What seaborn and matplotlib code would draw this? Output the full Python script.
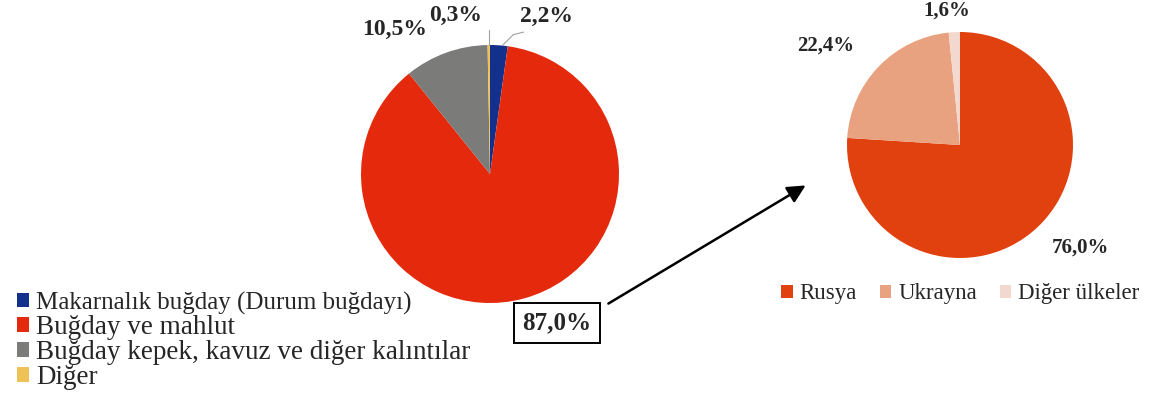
import seaborn as sns
import matplotlib.pyplot as plt

# Data
product_labels = ["Makarnalık buğday (Durum buğdayı)", "Buğday ve mahlut",
                  "Buğday kepek, kavuz ve diğer kalıntılar", "Diğer"]
product_shares = [2.2, 87.0, 10.5, 0.3]
product_colors = ["#13318c", "#e5290c", "#7b7b79", "#eec255"]

origin_labels = ["Rusya", "Ukrayna", "Diğer ülkeler"]
origin_shares = [76.0, 22.4, 1.6]
origin_colors = ["#e1410f", "#e9a27f", "#f3d8d0"]

W, H = 1159, 403

sns.set_theme(style="white")
plt.rcParams['font.family'] = ['Liberation Serif', 'DejaVu Serif']


def pct(v):
    return f"{v:.1f}%".replace(".", ",")


def pie_axes(fig, cx, cy, r):
    """Square axes in pixel units, centre (cx, cy) from top-left."""
    ax = fig.add_axes([(cx - r) / W, (H - cy - r) / H, 2 * r / W, 2 * r / H])
    ax.axis("off")
    return ax


fig = plt.figure(figsize=(W / 100, H / 100), dpi=100)

# overlay axes in pixel coordinates for the box + arrow
over = fig.add_axes([0, 0, 1, 1])
over.set_xlim(0, W)
over.set_ylim(H, 0)
over.axis("off")

# Left pie
ax1 = pie_axes(fig, 490, 174, 129)
wedges1, _ = ax1.pie(product_shares, colors=product_colors, startangle=90,
                     counterclock=False, radius=1,
                     wedgeprops=dict(edgecolor="none"))
ax1.set_xlim(-1, 1)
ax1.set_ylim(-1, 1)
lbl_font = dict(fontsize=17, fontweight="bold", ha="center", va="center")
ax1.text(0.44, 1.22, pct(product_shares[0]), **lbl_font)
ax1.text(-0.27, 1.23, pct(product_shares[3]), **lbl_font)
ax1.text(-0.74, 1.12, pct(product_shares[2]), **lbl_font)
ax1.plot([0.10, 0.18, 0.26], [1.0, 1.08, 1.10], color="#a0a0a0", lw=0.8, clip_on=False)
ax1.plot([-0.01, -0.01], [1.0, 1.12], color="#a0a0a0", lw=0.8, clip_on=False)

# Right pie
ax2 = pie_axes(fig, 960, 145, 113)
wedges2, _ = ax2.pie(origin_shares, colors=origin_colors, startangle=90,
                     counterclock=False, radius=1,
                     wedgeprops=dict(edgecolor="none"))
ax2.set_xlim(-1, 1)
ax2.set_ylim(-1, 1)
lbl_font2 = dict(fontsize=15, fontweight="bold", ha="center", va="center")
ax2.text(1.07, -0.91, pct(origin_shares[0]), **lbl_font2)
ax2.text(-1.19, 0.88, pct(origin_shares[1]), **lbl_font2)
ax2.text(-0.12, 1.19, pct(origin_shares[2]), **lbl_font2)

# Boxed 87,0% and arrow to the breakdown pie
over.text(557, 323, pct(product_shares[1]), fontsize=18, fontweight="bold",
          ha="center", va="center",
          bbox=dict(boxstyle="square,pad=0.35", fc="white", ec="black", lw=1.4))
over.annotate("", xy=(808, 184), xytext=(606, 305),
              arrowprops=dict(arrowstyle="-|>,head_length=0.9,head_width=0.45",
                              color="black", lw=1.8))

# Legends
leg1 = fig.legend(wedges1, product_labels, loc="upper left",
                  bbox_to_anchor=(6 / W, 1 - 281 / H), frameon=False,
                  fontsize=19.5, handlelength=0.45, handleheight=0.45,
                  handletextpad=0.25, labelspacing=0.0, borderaxespad=0)
leg1.get_texts()[0].set_fontsize(18)
fig.legend(wedges2, origin_labels, loc="upper left", ncol=3,
           bbox_to_anchor=(772 / W, 1 - 274 / H), frameon=False,
           fontsize=16.5, handlelength=0.5, handleheight=0.5,
           handletextpad=0.3, columnspacing=1.0, borderaxespad=0)

fig.savefig("out.png", dpi=100)
